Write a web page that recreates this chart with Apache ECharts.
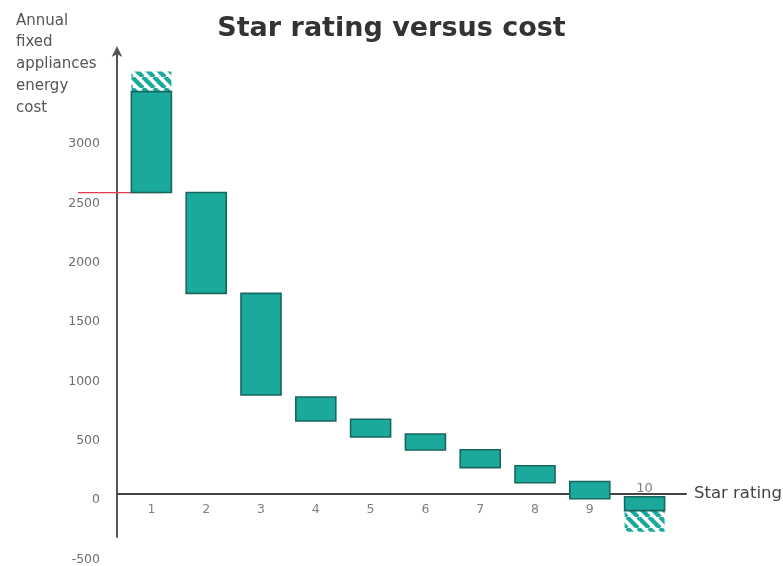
<!DOCTYPE html>
<html>
<head>
<meta charset="utf-8">
<title>Star rating versus cost</title>
<script src="https://cdn.jsdelivr.net/npm/echarts@6/dist/echarts.min.js"></script>
<style>
  html, body { margin: 0; padding: 0; background: #fff; }
  #chart { width: 783px; height: 566px; }
</style>
</head>
<body>
<div id="chart"></div>
<script>
// Star ratings along the x axis
const categories = ['1', '2', '3', '4', '5', '6', '7', '8', '9', '10'];
// Each bar runs from a lower cost to an upper cost (annual $)
const barLow  = [2540, 1690, 834, 615, 480, 370, 222, 95, -40, -140];
const barHigh = [3390, 2540, 1690, 817, 630, 505, 373, 238, 105, -23];
// Hatched uncertainty extensions: [category index, from, to]
const hatchRanges = [[0, 3390, 3560], [9, -318, -140]];
// Reference cost level marked in red
const referenceLevel = 2540;
// Value axis tick labels
const yTicks = [-500, 0, 500, 1000, 1500, 2000, 2500, 3000];

const FONT = 'DejaVu Sans, Verdana, sans-serif';
const TEAL = '#1aa99a';
const TEAL_EDGE = '#17675e';

// diagonal "\\\\" stripes used for the hatched extensions
function stripePattern(color) {
  const s = 11;
  const c = document.createElement('canvas');
  c.width = s; c.height = s;
  const g = c.getContext('2d');
  g.fillStyle = '#ffffff';
  g.fillRect(0, 0, s, s);
  g.strokeStyle = color;
  g.lineWidth = 4.4;
  g.beginPath();
  for (const o of [-s, 0, s]) { g.moveTo(o, 0); g.lineTo(o + s, s); }
  g.stroke();
  return c;
}
const hatchFill = { image: stripePattern(TEAL), repeat: 'repeat' };

const barData = categories.map((c, i) => [i, barLow[i], barHigh[i]]);
const lastIndex = categories.length - 1;

const chart = echarts.init(document.getElementById('chart'), null, { renderer: 'canvas' });

chart.setOption({
  animation: false,
  backgroundColor: '#ffffff',
  title: [
    {
      text: 'Star rating versus cost',
      left: 'center',
      top: 15,
      padding: 0,
      textStyle: { fontFamily: FONT, fontSize: 27, fontWeight: 'bold', color: '#333333' }
    },
    {
      text: 'Annual\nfixed\nappliances\nenergy\ncost',
      left: 16,
      top: 10,
      padding: 0,
      textStyle: { fontFamily: FONT, fontSize: 15, fontWeight: 'normal', color: '#555555', lineHeight: 21.7 }
    }
  ],
  grid: [
    // data area
    { left: 124, right: 111, top: 78.6, bottom: 12.7, outerBoundsMode: 'none', containLabel: false },
    // frame carrying the long axis lines
    { left: 117, right: 97, top: 50, bottom: 29, outerBoundsMode: 'none', containLabel: false }
  ],
  xAxis: [
    {
      type: 'category',
      gridIndex: 0,
      data: categories,
      axisLine: { show: false },
      axisTick: { show: false },
      axisLabel: { show: false },
      splitLine: { show: false }
    },
    {
      type: 'value',
      gridIndex: 1,
      min: 0, max: 1,
      axisLine: { onZero: true, lineStyle: { color: '#444444', width: 2 } },
      axisTick: { show: false },
      axisLabel: { show: false },
      splitLine: { show: false },
      name: 'Star rating',
      nameLocation: 'end',
      nameGap: 8,
      nameTextStyle: { fontFamily: FONT, fontSize: 16.5, color: '#444444' }
    }
  ],
  yAxis: [
    {
      type: 'value',
      gridIndex: 0,
      min: -500,
      max: 3500,
      interval: 500,
      axisLine: { show: false },
      axisTick: { show: false },
      splitLine: { show: false },
      axisLabel: {
        margin: 24,
        verticalAlign: 'top',
        lineHeight: 12,
        fontFamily: FONT,
        fontSize: 12.5,
        color: '#6e6e6e',
        formatter: v => (yTicks.indexOf(v) >= 0 ? String(v) : '')
      }
    },
    {
      type: 'value',
      gridIndex: 1,
      min: -362,
      max: 3733,
      axisLine: {
        show: true,
        symbol: ['none', 'arrow'],
        symbolSize: [8, 11],
        symbolOffset: [0, 4],
        lineStyle: { color: '#555555', width: 2 }
      },
      axisTick: { show: false },
      axisLabel: { show: false },
      splitLine: { show: false }
    }
  ],
  series: [
    {
      // red reference level crossing the value axis
      type: 'custom',
      xAxisIndex: 0,
      yAxisIndex: 0,
      clip: false,
      z: 1,
      data: [[0, referenceLevel]],
      renderItem(params, api) {
        const p = api.coord([api.value(0), api.value(1)]);
        const x0 = params.coordSys.x - 46;
        return {
          type: 'line',
          shape: { x1: x0, y1: p[1], x2: p[0] + 12, y2: p[1] },
          style: { stroke: '#e23b4f', lineWidth: 1.2 }
        };
      }
    },
    {
      // hatched extensions
      type: 'custom',
      xAxisIndex: 0,
      yAxisIndex: 0,
      clip: false,
      z: 2,
      data: hatchRanges,
      renderItem(params, api) {
        const i = api.value(0);
        const a = api.coord([i, Math.max(api.value(1), api.value(2))]);
        const b = api.coord([i, Math.min(api.value(1), api.value(2))]);
        const w = api.size([1, 0])[0] * 0.73;
        return {
          type: 'rect',
          shape: { x: a[0] - w / 2, y: a[1], width: w, height: b[1] - a[1] },
          style: { fill: hatchFill, stroke: null }
        };
      }
    },
    {
      // cost bars
      type: 'custom',
      xAxisIndex: 0,
      yAxisIndex: 0,
      clip: false,
      z: 3,
      data: barData,
      renderItem(params, api) {
        const i = api.value(0);
        const top = api.coord([i, api.value(2)]);
        const bottom = api.coord([i, api.value(1)]);
        const w = api.size([1, 0])[0] * 0.73;
        return {
          type: 'rect',
          shape: { x: top[0] - w / 2, y: top[1], width: w, height: bottom[1] - top[1] },
          style: { fill: TEAL, stroke: TEAL_EDGE, lineWidth: 1.6 }
        };
      }
    },
    {
      // star rating labels along the zero line; the last one sits above it
      type: 'custom',
      xAxisIndex: 0,
      yAxisIndex: 0,
      clip: false,
      z: 4,
      silent: true,
      data: categories.map((c, i) => [i, 0]),
      renderItem(params, api) {
        const i = api.value(0);
        const p = api.coord([i, 0]);
        const above = i === lastIndex;
        return {
          type: 'text',
          x: p[0],
          y: above ? p[1] - 5 : p[1] + 16,
          style: {
            text: categories[i],
            fontFamily: FONT,
            fontSize: above ? 13 : 12.5,
            fill: '#808080',
            align: 'center',
            verticalAlign: 'middle'
          }
        };
      }
    }
  ]
});
</script>
</body>
</html>
